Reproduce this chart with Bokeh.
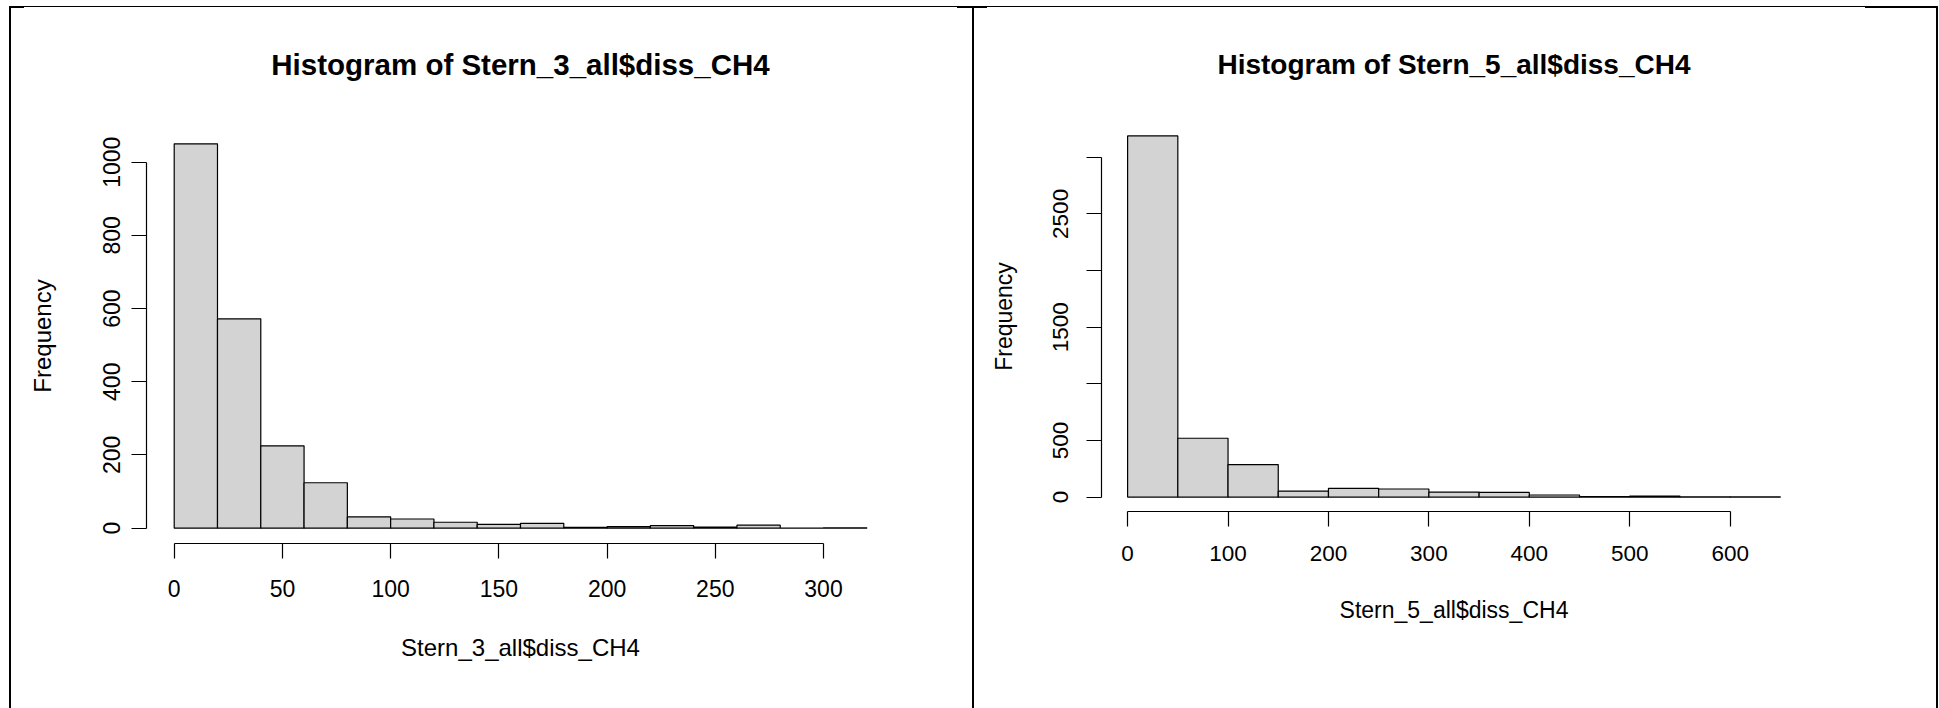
from bokeh.plotting import figure
from bokeh.layouts import row
from bokeh.models import FixedTicker, Range1d
from bokeh.embed import file_html
from bokeh.resources import INLINE

# ---- data ----
left_title = "Histogram of Stern_3_all$diss_CH4"
left_xlabel = "Stern_3_all$diss_CH4"
left_breaks = [0, 20, 40, 60, 80, 100, 120, 140, 160, 180, 200, 220, 240, 260, 280, 300, 320]
left_counts = [1050, 572, 225, 124, 31, 25, 16, 10, 13, 2, 4, 7, 3, 8, 0, 1]
left_xticks = [0, 50, 100, 150, 200, 250, 300]
left_yticks = [0, 200, 400, 600, 800, 1000]

right_title = "Histogram of Stern_5_all$diss_CH4"
right_xlabel = "Stern_5_all$diss_CH4"
right_breaks = [0, 50, 100, 150, 200, 250, 300, 350, 400, 450, 500, 550, 600, 650]
right_counts = [3188, 519, 287, 53, 77, 71, 44, 41, 18, 4, 9, 2, 1]
right_xticks = [0, 100, 200, 300, 400, 500, 600]
right_yticks = [0, 500, 1000, 1500, 2000, 2500, 3000]
right_ylabels_hidden = [1000, 2000, 3000]

FONT = "Liberation Sans"


def bar(x, y, w, h):
    return f"linear-gradient(#000,#000) {x}px {y}px / {w}px {h}px no-repeat"


# page frame lines (decoration around the two panels), drawn behind transparent canvases
left_frame = ", ".join([bar(10, 6, 962, 1), bar(10, 6, 14, 2), bar(9, 6, 2, 702),
                        bar(957, 6, 15, 2)]) + ", #ffffff"
right_frame = ", ".join([bar(0, 6, 964, 1), bar(0, 6, 2, 702), bar(0, 6, 15, 2),
                         bar(893, 6, 73, 2), bar(964, 6, 2, 702)]) + ", #ffffff"


def make_hist(title, xlabel, breaks, counts, xticks, yticks, hidden, width, height,
              mb, title_size, tick_size, lab_size, title_standoff,
              xl_standoff, xa_standoff, yl_standoff, ya_standoff, frame_css):
    span = breaks[-1] - breaks[0]
    ymax = max(counts)
    p = figure(width=width, height=height, output_backend="svg", toolbar_location=None,
               x_range=Range1d(breaks[0] - 0.04 * span, breaks[-1] + 0.04 * span),
               y_range=Range1d(-0.04 * ymax, 1.04 * ymax),
               min_border_left=mb[0], min_border_right=mb[1],
               min_border_top=mb[2], min_border_bottom=mb[3],
               title=title, styles={"background": frame_css})
    p.frame_align = False
    p.quad(left=breaks[:-1], right=breaks[1:], bottom=0, top=counts,
           fill_color="#D3D3D3", line_color="black", line_width=1.2)
    p.outline_line_color = None
    p.grid.visible = False
    p.background_fill_color = "white"
    p.border_fill_alpha = 0

    p.title.align = "center"
    p.title.vertical_align = "middle"
    p.title.text_font = FONT
    p.title.text_font_size = f"{title_size}px"
    p.title.text_font_style = "bold"
    p.title.text_color = "black"
    p.title.standoff = title_standoff

    for ax, ticks, lab_st, ax_st in ((p.xaxis[0], xticks, xl_standoff, xa_standoff),
                                     (p.yaxis[0], yticks, yl_standoff, ya_standoff)):
        ax.ticker = FixedTicker(ticks=ticks)
        ax.bounds = (ticks[0], ticks[-1])
        ax.minor_tick_line_color = None
        ax.major_tick_in = 0
        ax.major_tick_out = 15
        ax.axis_line_color = "black"
        ax.axis_line_width = 1.2
        ax.major_tick_line_color = "black"
        ax.major_tick_line_width = 1.2
        ax.major_label_text_font = FONT
        ax.major_label_text_font_size = f"{tick_size}px"
        ax.major_label_text_color = "black"
        ax.major_label_standoff = lab_st
        ax.axis_label_text_font = FONT
        ax.axis_label_text_font_size = f"{lab_size}px"
        ax.axis_label_text_font_style = "normal"
        ax.axis_label_text_color = "black"
        ax.axis_label_standoff = ax_st
    p.xaxis[0].axis_label = xlabel
    p.yaxis[0].axis_label = "Frequency"
    p.yaxis[0].major_label_orientation = "vertical"
    if hidden:
        p.yaxis[0].major_label_overrides = {v: "" for v in hidden}
    return p


p1 = make_hist(left_title, left_xlabel, left_breaks, left_counts, left_xticks, left_yticks, None,
               972, 708, (146, 78, 128, 165), 29.5, 23, 24, 93, 21, 34, 11, 45, left_frame)
p2 = make_hist(right_title, right_xlabel, right_breaks, right_counts, right_xticks, right_yticks,
               right_ylabels_hidden,
               967, 708, (129, 133, 121, 197), 28, 22.5, 23, 82, 19, 33, 18, 34, right_frame)

layout = row(p1, p2)
open("out.html", "w").write(file_html(layout, INLINE))
